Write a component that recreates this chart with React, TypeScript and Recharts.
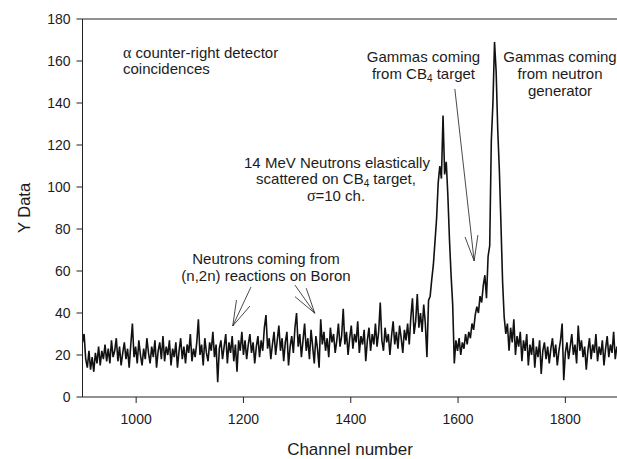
import { LineChart, Line, XAxis, YAxis, ReferenceLine } from 'recharts'

// spectrum, one value every 3 channels starting at channel 900
const channelStart = 900
const channelStep = 3

const counts900 = [
    26, 30, 18, 14, 22, 13, 19, 12, 21, 16,
    24, 15, 22, 18, 25, 17, 23, 16, 27, 19,
    22, 28, 17, 24, 15, 21, 26, 18, 23, 14,
    25, 35, 19, 24, 16, 27, 20, 15, 23, 18,
    28, 21, 16, 24, 19, 27, 14, 22, 26, 18,
]
const counts1050 = [
    29, 17, 24, 20, 27, 15, 23, 19, 26, 14,
    22, 28, 18, 24, 16, 25, 21, 30, 17, 23,
    19, 26, 37, 20, 25, 15, 28, 21, 17, 26,
    22, 31, 19, 25, 7, 23, 27, 18, 24, 30,
    16, 26, 21, 29, 17, 25, 12, 27, 22, 31,
]
const counts1200 = [
    20, 27, 18, 25, 30, 21, 26, 16, 24, 29,
    19, 27, 22, 33, 39, 23, 28, 18, 25, 31,
    20, 27, 34, 22, 28, 17, 26, 31, 15, 24,
    29, 21, 33, 40, 24, 30, 19, 27, 35, 22,
    28, 18, 32, 24, 16, 29, 23, 14, 37, 25,
]
const counts1350 = [
    31, 22, 28, 19, 33, 26, 30, 21, 27, 35,
    24, 29, 42, 25, 31, 20, 28, 34, 23, 30,
    26, 36, 21, 29, 25, 32, 17, 27, 33, 22,
    30, 25, 35, 24, 31, 45, 27, 22, 33, 26,
    30, 20, 29, 36, 25, 31, 23, 34, 28, 21,
]
// first peak (elastic neutrons) and the CB4 gamma shoulder
const counts1500 = [
    32, 27, 35, 25, 38, 47, 30, 36, 49, 33,
    40, 31, 44, 35, 19, 46, 48, 56, 63, 74,
    85, 102, 110, 104, 134, 106, 112, 96, 75, 58,
    44, 16, 27, 22, 28, 20, 26, 23, 30, 25,
    31, 28, 35, 32, 39, 43, 40, 48, 45, 53,
]
// second peak (generator gammas) and tail
const counts1650 = [
    58, 47, 67, 72, 122, 140, 169, 155, 127, 108,
    82, 55, 38, 30, 35, 22, 33, 26, 37, 20,
    29, 24, 31, 17, 27, 22, 30, 15, 25, 20,
    28, 14, 24, 19, 27, 11, 22, 26, 18, 24,
    16, 23, 28, 19, 25, 15, 22, 27, 35, 8,
]
const counts1800 = [
    21, 26, 18, 24, 30, 20, 25, 16, 34, 22,
    27, 19, 24, 13, 22, 28, 18, 25, 21, 30,
    17, 24, 20, 27, 15, 23, 29, 19, 25, 21,
    31, 18, 24, 20,
]

const xTicks = [1000, 1200, 1400, 1600, 1800]
const yTicks = [0, 20, 40, 60, 80, 100, 120, 140, 160, 180]

const allCounts = [
    ...counts900, ...counts1050, ...counts1200, ...counts1350,
    ...counts1500, ...counts1650, ...counts1800,
]
const data = allCounts.map((c, i) => ({ channel: channelStart + i * channelStep, counts: c }))

// arrows, in data coordinates [channel, counts]
const arrows: Array<[[number, number], [number, number]]> = [
    [[1594, 146.7], [1630, 64.8]],
    [[1613, 76.2], [1630, 64.8]],
    [[1637, 77.1], [1630, 64.8]],
    [[1214, 52.4], [1180, 33.8]],
    [[1187, 46.2], [1180, 33.8]],
    [[1212, 43.3], [1180, 33.8]],
    [[1296, 53.3], [1333, 39.9]],
    [[1317, 51.8], [1333, 39.9]],
    [[1296, 47.8], [1333, 39.9]],
]

const FONT = '"Liberation Sans", Arial, sans-serif'
const SERIF = '"Liberation Serif", "Times New Roman", serif'
const INK = '#1c1c1c'

function Annotations() {
    const t = { fontFamily: FONT, fontSize: 15, fill: INK }
    return (
        <svg
            width={617}
            height={459}
            style={{ position: 'absolute', left: 0, top: 0, pointerEvents: 'none' }}
        >
            <text {...t} x={123} y={57.6}>
                <tspan fontFamily={SERIF} fontSize={16}>α</tspan> counter-right detector
            </text>
            <text {...t} x={123} y={74.2}>coincidences</text>

            <text {...t} x={423.5} y={62.4} textAnchor="middle">Gammas coming</text>
            <text {...t} x={423.5} y={79} textAnchor="middle">
                from CB<tspan fontSize={10} dy={3}>4</tspan>
                <tspan dy={-3}> target</tspan>
            </text>

            <text {...t} x={560} y={62.4} textAnchor="middle">Gammas coming</text>
            <text {...t} x={560} y={79} textAnchor="middle">from neutron</text>
            <text {...t} x={560} y={95.6} textAnchor="middle">generator</text>

            <text {...t} x={337} y={167.5} textAnchor="middle">14 MeV Neutrons elastically</text>
            <text {...t} x={336} y={184} textAnchor="middle">
                scattered on CB<tspan fontSize={10} dy={3}>4</tspan>
                <tspan dy={-3}> target,</tspan>
            </text>
            <text {...t} x={336} y={200.5} textAnchor="middle">
                <tspan fontFamily={SERIF} fontSize={16}>σ</tspan>=10 ch.
            </text>

            <text {...t} x={266} y={264} textAnchor="middle">Neutrons coming from</text>
            <text {...t} x={266} y={280.5} textAnchor="middle">(n,2n) reactions on Boron</text>

            <text
                fontFamily={FONT}
                fontSize={16.5}
                fill={INK}
                textAnchor="middle"
                transform="translate(30, 208) rotate(-90)"
            >
                Y Data
            </text>
            <text fontFamily={FONT} fontSize={17} fill={INK} x={350} y={455} textAnchor="middle">
                Channel number
            </text>
        </svg>
    )
}

export default function App() {
    return (
        <div
            style={{
                position: 'absolute',
                left: 0,
                top: 0,
                width: 617,
                height: 459,
                overflow: 'hidden',
                background: '#fff',
            }}
        >
            <LineChart
                width={620}
                height={459}
                data={data}
                margin={{ top: 19, right: 1, bottom: 22, left: 22.5 }}
            >
                <XAxis
                    dataKey="channel"
                    type="number"
                    domain={[900, 1900]}
                    ticks={xTicks}
                    allowDataOverflow
                    height={40}
                    tickSize={6}
                    tickMargin={11}
                    stroke="#222"
                    tick={{ fill: INK, fontSize: 14, fontFamily: FONT }}
                />
                <YAxis
                    type="number"
                    domain={[0, 180]}
                    ticks={yTicks}
                    allowDataOverflow
                    width={60}
                    tickSize={6}
                    tickMargin={6}
                    stroke="#222"
                    tick={{ fill: INK, fontSize: 14, fontFamily: FONT }}
                />
                <ReferenceLine y={180} stroke="#222" />
                {arrows.map((seg, i) => (
                    <ReferenceLine
                        key={`arrow-${i}`}
                        segment={[
                            { x: seg[0][0], y: seg[0][1] },
                            { x: seg[1][0], y: seg[1][1] },
                        ]}
                        stroke={INK}
                        strokeWidth={0.8}
                    />
                ))}
                <Line
                    type="linear"
                    dataKey="counts"
                    stroke="#111"
                    strokeWidth={1.6}
                    strokeLinejoin="miter"
                    dot={false}
                    isAnimationActive={false}
                />
            </LineChart>
            <Annotations />
        </div>
    )
}
